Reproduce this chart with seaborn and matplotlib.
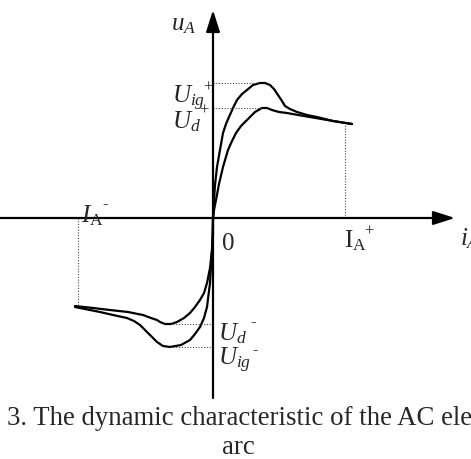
import numpy as np
import pandas as pd
import matplotlib
matplotlib.use("Agg")
import matplotlib.pyplot as plt
import seaborn as sns

# Dynamic characteristic of an AC arc: voltage u_A versus current i_A
# (arbitrary units; origin at the crossing of the axes)
ig_pos_i = [0, 0.5, 1, 2, 4, 7, 10, 13, 16, 20, 24, 29, 34, 40, 47, 52, 57, 61, 65, 69, 72, 77, 84, 94, 104, 120, 139]
ig_pos_u = [0, 10, 18, 33, 51, 68, 85, 94, 101, 110, 118, 124, 128, 133, 135, 135, 133, 129, 123, 117, 112, 109, 106, 103, 101, 97, 94]
d_pos_i = [0, 1, 3, 6, 10, 15, 19, 23, 28, 34, 42, 49, 54, 59, 66, 74, 85, 97, 120, 139]
d_pos_u = [0, 8, 18, 34, 51, 68, 77, 85, 92, 98, 106, 110, 110, 108, 106, 105, 103, 101, 97, 94]

ig_neg_i = [0, 0, -1, -3, -6, -9, -13, -18, -23, -32, -43, -50, -56, -61, -66, -70, -73, -79, -86, -100, -113, -138]
ig_neg_u = [0, -16, -32, -65, -89, -100, -109, -116, -122, -127, -129, -128, -124, -119, -114, -110, -107, -103, -100, -97, -94, -89]
d_neg_i = [0, -0.5, -1, -3, -6, -9, -13, -18, -23, -29, -36, -42, -48, -53, -56, -62, -70, -85, -103, -120, -138]
d_neg_u = [0, -16, -32, -50, -65, -75, -82, -89, -95, -100, -104, -106, -106, -104, -102, -100, -97, -94, -92, -90, -88]

# current amplitudes marked on the i_A axis
I_amp_pos = 132
I_amp_neg = -135

sns.set_theme(style="white")
plt.rcParams["font.family"] = ["Liberation Serif", "DejaVu Serif"]
plt.rcParams["mathtext.fontset"] = "custom"
plt.rcParams["mathtext.rm"] = "Liberation Serif"
plt.rcParams["mathtext.it"] = "Liberation Serif:italic"

fig = plt.figure(figsize=(4.71, 4.59), dpi=100)
ax = fig.add_axes([0, 0, 1, 1])
ax.set_xlim(-213, 258)
ax.set_ylim(-241, 218)
ax.axis("off")

curves = [
    (ig_pos_i, ig_pos_u, "ig+"),
    (d_pos_i, d_pos_u, "d+"),
    (ig_neg_i, ig_neg_u, "ig-"),
    (d_neg_i, d_neg_u, "d-"),
]
frames = [pd.DataFrame({"i": i, "u": u, "curve": name}) for i, u, name in curves]
df = pd.concat(frames, ignore_index=True)
sns.lineplot(data=df, x="i", y="u", units="curve", estimator=None, sort=False,
             color="black", lw=1.6, ax=ax, legend=False)

# axes with arrowheads
arrow = dict(arrowstyle="-|>,head_length=1.1,head_width=0.35",
             color="black", lw=1.6, shrinkA=0, shrinkB=0)
ax.annotate("", xy=(242, 0), xytext=(-213, 0), arrowprops=arrow)
ax.annotate("", xy=(0, 208), xytext=(0, -180), arrowprops=arrow)

# dotted guides to the peaks and the end points
dot = dict(color="#444444", lw=0.8, ls=(0, (1, 1.5)))
k = int(np.argmax(ig_pos_u))
ax.plot([0, ig_pos_i[k]], [ig_pos_u[k]] * 2, **dot)
k = int(np.argmax(d_pos_u))
ax.plot([0, d_pos_i[k]], [d_pos_u[k]] * 2, **dot)
k = int(np.argmin(ig_neg_u))
ax.plot([0, ig_neg_i[k]], [ig_neg_u[k]] * 2, **dot)
k = int(np.argmin(d_neg_u))
ax.plot([0, d_neg_i[k]], [d_neg_u[k]] * 2, **dot)
ax.plot([I_amp_pos] * 2, [0, np.interp(I_amp_pos, d_pos_i, d_pos_u)], **dot)
ax.plot([I_amp_neg] * 2, [0, np.interp(-I_amp_neg, [-v for v in d_neg_i], d_neg_u)], **dot)

fs = 18
sfs = 12
ax.text(-29, 188, r"$u_A$", fontsize=fs, ha="center", va="baseline")
ax.text(-41, 115, r"$U_{ig}$", fontsize=fs, ha="left", va="baseline")
ax.text(-5, 130, "+", fontsize=sfs, ha="center", va="center")
ax.text(-41, 90, r"$U_d$", fontsize=fs, ha="left", va="baseline")
ax.text(-9, 107, "+", fontsize=sfs, ha="center", va="center")
ax.text(15, -32, "0", fontsize=fs, ha="center", va="baseline")
ax.text(131, -29, r"$\mathrm{I}_\mathrm{A}$", fontsize=fs, ha="left", va="baseline")
ax.text(156, -14, "+", fontsize=sfs, ha="center", va="center")
ax.text(247, -27, r"$i_A$", fontsize=fs, ha="left", va="baseline")
ax.text(-132, -4, r"$I_\mathrm{A}$", fontsize=fs, ha="left", va="baseline")
ax.text(-108, 14, "-", fontsize=sfs, ha="center", va="center")
ax.text(5, -122, r"$U_d$", fontsize=fs, ha="left", va="baseline")
ax.text(40, -104, "-", fontsize=sfs, ha="center", va="center")
ax.text(5, -147, r"$U_{ig}$", fontsize=fs, ha="left", va="baseline")
ax.text(42, -132, "-", fontsize=sfs, ha="center", va="center")

ax.text(-206, -207, "3. The dynamic characteristic of the AC electric", fontsize=19.3,
        ha="left", va="baseline")
ax.text(25, -236, "arc", fontsize=19.3, ha="center", va="baseline")

fig.savefig("out.png", dpi=100)
